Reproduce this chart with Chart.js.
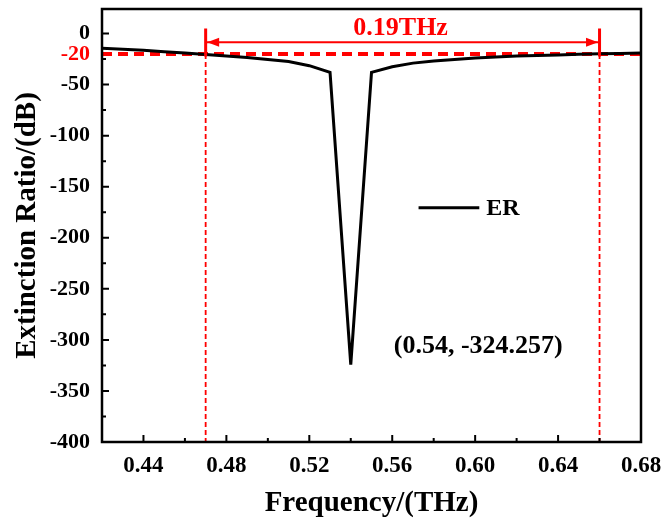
<!DOCTYPE html>
<html lang="en">
<head>
<meta charset="UTF-8">
<title>Extinction Ratio</title>
<script src="https://cdn.jsdelivr.net/npm/chart.js"></script>
<style>
  html, body { margin: 0; padding: 0; background: #fff; }
  #wrap { width: 664px; height: 526px; }
</style>
</head>
<body>
<div id="wrap"><canvas id="myChart" width="664" height="526"></canvas></div>
<script>
// data
const freq = [0.42, 0.43, 0.44, 0.45, 0.46, 0.47, 0.48, 0.49, 0.50, 0.51, 0.52, 0.53, 0.54,
              0.55, 0.56, 0.57, 0.58, 0.59, 0.60, 0.61, 0.62, 0.63, 0.64, 0.65, 0.66, 0.67, 0.68];
const er = [-14.4, -15.5, -16.5, -17.8, -19, -20.5, -22, -23.5, -25.5, -27.5, -31.5, -38, -324.257,
            -38, -32.5, -29, -27, -25.5, -24, -23, -22, -21.5, -21, -20.3, -19.8, -19.5, -19.2];

const xTicks = [0.44, 0.48, 0.52, 0.56, 0.60, 0.64, 0.68];
const xMinor = [0.46, 0.50, 0.54, 0.58, 0.62, 0.66];
const yTicks = [0, -50, -100, -150, -200, -250, -300, -350, -400];
const yMinor = [-25, -75, -125, -175, -225, -275, -325, -375];

const erLevel = -20;
const bandStart = 0.47;
const bandEnd = 0.66;
const bandText = '0.19THz';
const minText = '(0.54, -324.257)';

const RED = '#ff0000';
const FONT = "'Liberation Serif', 'Times New Roman', serif";

// marker lines built from the values above
const arrowY = -8.5;
const barTop = 5, barBottom = -22.5;

const ctx = document.getElementById('myChart');

const extras = {
  id: 'extras',
  afterDatasetsDraw(chart) {
    const c = chart.ctx;
    const xs = chart.scales.x, ys = chart.scales.y;
    const a = chart.chartArea;
    c.save();

    // inward ticks
    c.strokeStyle = '#000';
    c.lineWidth = 2;
    c.beginPath();
    yTicks.forEach(v => { const p = ys.getPixelForValue(v); c.moveTo(a.left, p); c.lineTo(a.left + 7, p); });
    yMinor.forEach(v => { const p = ys.getPixelForValue(v); c.moveTo(a.left, p); c.lineTo(a.left + 4, p); });
    xTicks.forEach(v => { const p = xs.getPixelForValue(v); c.moveTo(p, a.bottom); c.lineTo(p, a.bottom - 7); });
    xMinor.forEach(v => { const p = xs.getPixelForValue(v); c.moveTo(p, a.bottom); c.lineTo(p, a.bottom - 4); });
    c.stroke();
    // red tick for -20
    c.strokeStyle = RED;
    c.beginPath();
    const p20 = ys.getPixelForValue(erLevel);
    c.moveTo(a.left, p20); c.lineTo(a.left + 7, p20);
    c.stroke();

    // frame
    c.strokeStyle = '#000';
    c.lineWidth = 2.5;
    c.strokeRect(a.left, a.top, a.right - a.left, a.bottom - a.top);

    // arrow heads
    const ay = ys.getPixelForValue(arrowY);
    const x1 = xs.getPixelForValue(bandStart) + 1.5;
    const x2 = xs.getPixelForValue(bandEnd) - 1.5;
    c.fillStyle = RED;
    c.beginPath();
    c.moveTo(x1, ay); c.lineTo(x1 + 12, ay - 4.5); c.lineTo(x1 + 12, ay + 4.5); c.closePath();
    c.moveTo(x2, ay); c.lineTo(x2 - 12, ay - 4.5); c.lineTo(x2 - 12, ay + 4.5); c.closePath();
    c.fill();

    // band text
    c.font = 'bold 26px ' + FONT;
    c.textAlign = 'center';
    c.textBaseline = 'middle';
    c.fillText(bandText, (x1 + x2) / 2 - 2, ys.getPixelForValue(5.5));

    // legend
    const lx = xs.getPixelForValue(0.5727), lx2 = xs.getPixelForValue(0.602);
    const ly = ys.getPixelForValue(-170.6);
    c.strokeStyle = '#000';
    c.lineWidth = 3;
    c.beginPath(); c.moveTo(lx, ly); c.lineTo(lx2, ly); c.stroke();
    c.fillStyle = '#000';
    c.textAlign = 'left';
    c.font = 'bold 24px ' + FONT;
    c.fillText('ER', lx2 + 7, ly + 1);

    // minimum label
    c.textAlign = 'center';
    c.font = 'bold 26px ' + FONT;
    c.fillText(minText, xs.getPixelForValue(0.6015), ys.getPixelForValue(-306));

    c.restore();
  }
};

new Chart(ctx, {
  type: 'line',
  data: {
    datasets: [
      {
        label: 'ER',
        data: freq.map((f, i) => ({ x: f, y: er[i] })),
        borderColor: '#000',
        borderWidth: 3,
        pointRadius: 0,
        tension: 0,
        order: 1
      },
      {
        label: 'level',
        data: [{ x: 0.42, y: erLevel }, { x: 0.68, y: erLevel }],
        borderColor: RED,
        borderWidth: 4,
        borderDash: [10, 6],
        pointRadius: 0,
        order: 2
      },
      {
        label: 'start',
        data: [{ x: bandStart, y: erLevel }, { x: bandStart, y: -400 }],
        borderColor: RED,
        borderWidth: 1.8,
        borderDash: [5, 3],
        pointRadius: 0
      },
      {
        label: 'end',
        data: [{ x: bandEnd, y: erLevel }, { x: bandEnd, y: -400 }],
        borderColor: RED,
        borderWidth: 1.8,
        borderDash: [5, 3],
        pointRadius: 0
      },
      {
        label: 'barStart',
        data: [{ x: bandStart, y: barTop }, { x: bandStart, y: barBottom }],
        borderColor: RED,
        borderWidth: 3,
        pointRadius: 0
      },
      {
        label: 'barEnd',
        data: [{ x: bandEnd, y: barTop }, { x: bandEnd, y: barBottom }],
        borderColor: RED,
        borderWidth: 3,
        pointRadius: 0
      },
      {
        label: 'arrow',
        data: [{ x: bandStart, y: arrowY }, { x: bandEnd, y: arrowY }],
        borderColor: RED,
        borderWidth: 2,
        pointRadius: 0
      }
    ]
  },
  options: {
    responsive: false,
    animation: false,
    layout: { padding: { top: 9, right: 23, left: 0, bottom: 0 } },
    plugins: { legend: { display: false }, tooltip: { enabled: false } },
    scales: {
      x: {
        type: 'linear',
        min: 0.42,
        max: 0.68,
        afterBuildTicks: s => { s.ticks = xTicks.map(v => ({ value: v })); },
        afterFit: s => { s.height = 84; s.paddingLeft = 0; s.paddingRight = 0; },
        grid: { display: false, drawTicks: false },
        border: { display: false },
        ticks: {
          padding: 10,
          autoSkip: false,
          maxRotation: 0,
          color: '#000',
          font: { family: FONT, size: 23, weight: 'bold' },
          callback: v => Number(v).toFixed(2)
        },
        title: {
          display: true,
          text: 'Frequency/(THz)',
          color: '#000',
          font: { family: FONT, size: 29, weight: 'bold' },
          padding: { top: 0, bottom: 5 }
        }
      },
      y: {
        type: 'linear',
        min: -400,
        max: 24,
        afterBuildTicks: s => { s.ticks = yTicks.concat([erLevel]).map(v => ({ value: v })); },
        afterFit: s => { s.width = 102; s.paddingTop = 0; s.paddingBottom = 0; },
        grid: { display: false, drawTicks: false },
        border: { display: false },
        ticks: {
          padding: 12,
          autoSkip: false,
          color: c => (c.tick && c.tick.value === erLevel ? RED : '#000'),
          font: { family: FONT, size: 22, weight: 'bold' },
          callback: v => String(v)
        },
        title: {
          display: true,
          text: 'Extinction Ratio/(dB)',
          color: '#000',
          font: { family: FONT, size: 29, weight: 'bold' },
          padding: { top: 10, bottom: 0 }
        }
      }
    }
  },
  plugins: [extras]
});
</script>
</body>
</html>
